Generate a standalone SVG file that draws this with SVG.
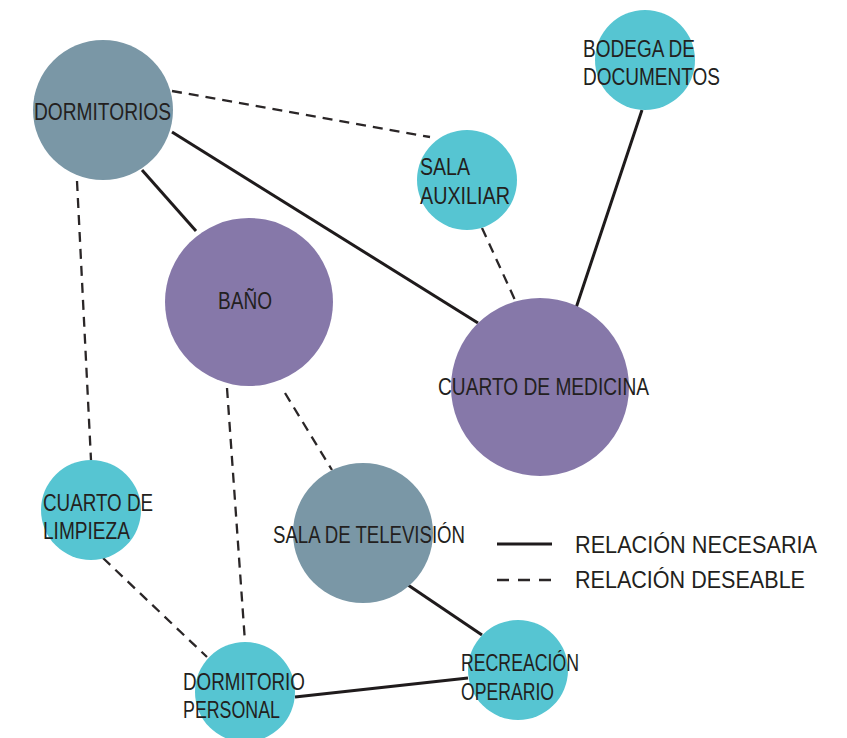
<svg xmlns="http://www.w3.org/2000/svg" width="847" height="738" viewBox="0 0 847 738">
  <style>
    .need { stroke: #1f1b1c; stroke-width: 3; fill: none; }
    .want { stroke: #2a2627; stroke-width: 2.3; stroke-dasharray: 10 7; fill: none; }
    .gray { fill: #7a97a6; }
    .violet { fill: #8678a9; }
    .cyan { fill: #56c5d2; }
    .lbl { font-family: "Liberation Sans Narrow", "Liberation Sans", Arial, sans-serif; font-size: 23.5px; fill: #231f20; }
  </style>
  <rect width="847" height="738" fill="#ffffff"/>

  <!-- relationships -->
  <g id="connectors">
    <line class="want" x1="172" y1="91" x2="430" y2="137"/>
    <line class="need" x1="172" y1="132" x2="478" y2="323"/>
    <line class="need" x1="142" y1="170" x2="196" y2="231"/>
    <line class="want" x1="77" y1="181" x2="91" y2="460"/>
    <line class="need" x1="642" y1="110" x2="576" y2="308"/>
    <line class="want" x1="482" y1="228" x2="515" y2="300"/>
    <line class="want" x1="227" y1="388" x2="245" y2="642"/>
    <line class="want" x1="285" y1="393" x2="332" y2="470"/>
    <line class="want" x1="103" y1="558" x2="207" y2="657"/>
    <line class="need" x1="408" y1="585" x2="482" y2="635"/>
    <line class="need" x1="295" y1="697" x2="468" y2="678"/>
  </g>

  <g id="dormitorios">
    <circle class="gray" cx="103" cy="110" r="70"/>
    <text class="lbl" x="34" y="120" textLength="137" lengthAdjust="spacingAndGlyphs">DORMITORIOS</text>
  </g>

  <g id="bodega-documentos">
    <circle class="cyan" cx="645" cy="60" r="50"/>
    <text class="lbl" x="583" y="57" textLength="112" lengthAdjust="spacingAndGlyphs">BODEGA DE</text>
    <text class="lbl" x="583" y="85" textLength="137" lengthAdjust="spacingAndGlyphs">DOCUMENTOS</text>
  </g>

  <g id="sala-auxiliar">
    <circle class="cyan" cx="467" cy="180" r="50"/>
    <text class="lbl" x="420" y="175" textLength="50" lengthAdjust="spacingAndGlyphs">SALA</text>
    <text class="lbl" x="420" y="204" textLength="90" lengthAdjust="spacingAndGlyphs">AUXILIAR</text>
  </g>

  <g id="bano">
    <circle class="violet" cx="249" cy="302" r="84"/>
    <text class="lbl" x="218" y="309" textLength="54" lengthAdjust="spacingAndGlyphs">BAÑO</text>
  </g>

  <g id="cuarto-medicina">
    <circle class="violet" cx="540" cy="387" r="89"/>
    <text class="lbl" x="438" y="395" textLength="211" lengthAdjust="spacingAndGlyphs">CUARTO DE MEDICINA</text>
  </g>

  <g id="cuarto-limpieza">
    <circle class="cyan" cx="91" cy="510" r="50"/>
    <text class="lbl" x="43" y="511" textLength="110" lengthAdjust="spacingAndGlyphs">CUARTO DE</text>
    <text class="lbl" x="43" y="539" textLength="87" lengthAdjust="spacingAndGlyphs">LIMPIEZA</text>
  </g>

  <g id="sala-television">
    <circle class="gray" cx="363" cy="533" r="70"/>
    <text class="lbl" x="273" y="543" textLength="192" lengthAdjust="spacingAndGlyphs">SALA DE TELEVISIÓN</text>
  </g>

  <g id="dormitorio-personal">
    <circle class="cyan" cx="245" cy="692" r="50"/>
    <text class="lbl" x="183" y="690" textLength="122" lengthAdjust="spacingAndGlyphs">DORMITORIO</text>
    <text class="lbl" x="183" y="718" textLength="97" lengthAdjust="spacingAndGlyphs">PERSONAL</text>
  </g>

  <g id="recreacion-operario">
    <circle class="cyan" cx="518" cy="670" r="50"/>
    <text class="lbl" x="461" y="671" textLength="118" lengthAdjust="spacingAndGlyphs">RECREACIÓN</text>
    <text class="lbl" x="461" y="700" textLength="93" lengthAdjust="spacingAndGlyphs">OPERARIO</text>
  </g>

  <!-- key -->
  <g id="legend">
    <line class="need" x1="497" y1="544" x2="552" y2="544"/>
    <text class="lbl" x="575" y="553" textLength="242" lengthAdjust="spacingAndGlyphs">RELACIÓN NECESARIA</text>
    <line class="want" x1="497" y1="580" x2="552" y2="580" style="stroke-dasharray: 12 9"/>
    <text class="lbl" x="575" y="588" textLength="230" lengthAdjust="spacingAndGlyphs">RELACIÓN DESEABLE</text>
  </g>
</svg>
